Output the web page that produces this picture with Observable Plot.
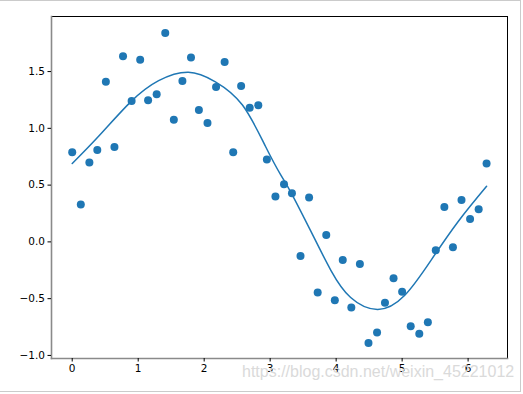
<!DOCTYPE html>
<html>
<head>
<meta charset="utf-8">
<script src="https://cdn.jsdelivr.net/npm/d3@7"></script>
<script src="https://cdn.jsdelivr.net/npm/@observablehq/plot@0.6"></script>
<style>
  html, body { margin: 0; padding: 0; background: #fff; }
  #wrap { position: relative; width: 523px; height: 394px; overflow: hidden; }
  #border { position: absolute; left: -1px; top: 0px; width: 520px; height: 390px; border: 1px solid #cbcbcb; pointer-events: none; }
  #wm { position: absolute; left: 242px; top: 363px; font: 16px "Liberation Sans", Arial, sans-serif; color: #dadada; white-space: nowrap; }
</style>
</head>
<body>
<div id="wrap"><div id="chart"></div><div id="border"></div><div id="wm">https://blog.csdn.net/weixin_45221012</div></div>
<script>
// noisy sample points (x, y)
const xs = [0.00,0.13,0.26,0.38,0.51,0.64,0.77,0.90,1.03,1.15,
            1.28,1.41,1.54,1.67,1.80,1.92,2.05,2.18,2.31,2.44,
            2.56,2.69,2.82,2.95,3.08,3.21,3.33,3.46,3.59,3.72,
            3.85,3.98,4.10,4.23,4.36,4.49,4.62,4.74,4.87,5.00,
            5.13,5.26,5.39,5.51,5.64,5.77,5.90,6.03,6.16,6.28];
const ys = [0.79,0.33,0.70,0.81,1.41,0.835,1.635,1.24,1.605,1.247,
            1.30,1.84,1.076,1.417,1.623,1.161,1.047,1.365,1.585,0.79,
            1.373,1.182,1.203,0.726,0.40,0.508,0.429,-0.124,0.391,-0.445,
            0.061,-0.515,-0.160,-0.577,-0.195,-0.89,-0.798,-0.536,-0.321,-0.439,
            -0.742,-0.81,-0.707,-0.074,0.307,-0.048,0.37,0.202,0.288,0.691];
// fitted curve, read at sample positions
const fitX = [0.00,0.40,0.89,1.31,1.76,2.17,2.58,2.93,3.16,3.32,3.62,3.92,4.22,4.63,5.04,5.44,5.85,6.28];
const fitY = [0.69,0.93,1.235,1.42,1.494,1.41,1.205,0.84,0.59,0.43,0.09,-0.25,-0.49,-0.595,-0.47,-0.16,0.18,0.49];
const xTicks = [0,1,2,3,4,5,6];
const yTicks = [-1.0,-0.5,0.0,0.5,1.0,1.5];

const pts = xs.map((x,i) => ({x, y: ys[i]}));
const fit = fitX.map((x,i) => ({x, y: fitY[i]}));
const blue = "#1f77b4";
const fmt = d => (d < 0 ? "\u2212" : "") + Math.abs(d).toFixed(1);

const chart = Plot.plot({
  width: 523, height: 394,
  marginLeft: 51, marginRight: 16, marginTop: 16, marginBottom: 36,
  style: {fontFamily: "DejaVu Sans", fontSize: "10.5px", color: "#000", background: "transparent"},
  x: {domain: [-0.314, 6.597], ticks: xTicks, tickFormat: d => String(d), tickSize: 3.5, tickPadding: 3, label: null},
  y: {domain: [-1.027, 1.985], ticks: yTicks, tickFormat: fmt, tickSize: 3.5, tickPadding: 3, label: null},
  marks: [
    Plot.frame({stroke: "#000", strokeWidth: 1}),
    Plot.frame({anchor: "left", stroke: "#8a8a8a", strokeWidth: 1.6}),
    Plot.frame({anchor: "bottom", stroke: "#8a8a8a", strokeWidth: 1.6}),
    Plot.axisX({ticks: xTicks, tickFormat: d => String(d), tickSize: 3.5, tickPadding: 3, label: null}),
    Plot.axisY({ticks: yTicks, tickFormat: fmt, tickSize: 3.5, tickPadding: 3, label: null}),
    Plot.dot(pts, {x: "x", y: "y", r: 4, fill: blue, stroke: "none"}),
    Plot.line(fit, {x: "x", y: "y", stroke: blue, strokeWidth: 1.5, curve: "natural"})
  ]
});
document.getElementById("chart").appendChild(chart);
</script>
</body>
</html>
